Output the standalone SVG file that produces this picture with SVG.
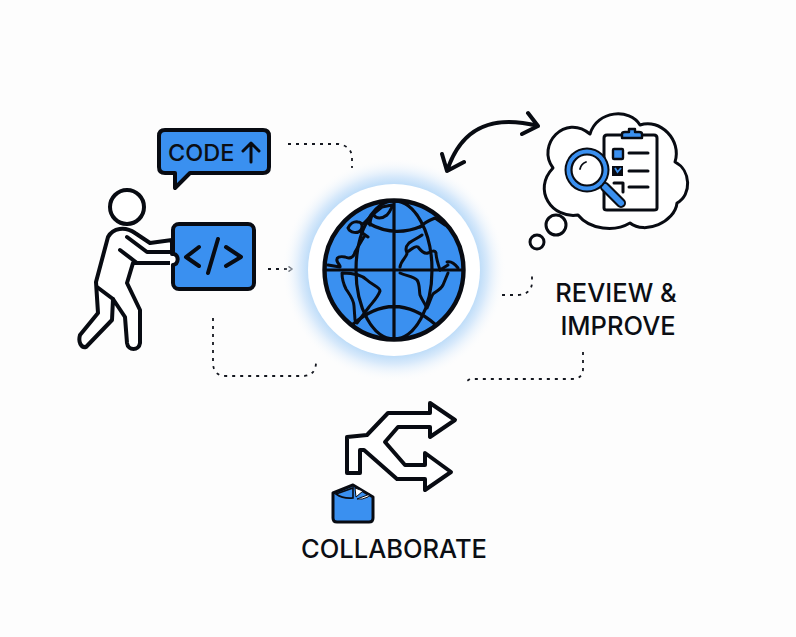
<svg xmlns="http://www.w3.org/2000/svg" width="796" height="637" viewBox="0 0 796 637">
  <defs>
    <radialGradient id="halo" gradientUnits="userSpaceOnUse" cx="394" cy="270" r="112">
      <stop offset="0.75" stop-color="#b9daf8"/>
      <stop offset="0.84" stop-color="#d9eafb"/>
      <stop offset="1" stop-color="#fdfdfd" stop-opacity="0"/>
    </radialGradient>
    <clipPath id="globeClip"><circle cx="394" cy="270" r="69"/></clipPath>
    <marker id="tip" markerWidth="6" markerHeight="6" refX="5" refY="3" orient="auto" markerUnits="userSpaceOnUse">
      <path d="M1.500 .5L5 3L1.500 5.500" fill="none" stroke="#10151f" stroke-width="1.400"/>
    </marker>
  </defs>
  <style>
    .ink { fill: none; stroke: #080b12; stroke-width: 4; stroke-linecap: round; stroke-linejoin: round; }
    .solid { fill: #fff; stroke: #080b12; stroke-width: 4; stroke-linecap: round; stroke-linejoin: round; }
    .blue { fill: #3a90f0; stroke: #080b12; stroke-width: 4; stroke-linecap: round; stroke-linejoin: round; }
    .thin { fill: none; stroke: #080b12; stroke-width: 3; stroke-linecap: round; stroke-linejoin: round; }
    .dot { fill: none; stroke: #14171f; stroke-width: 1.800; stroke-dasharray: 3 5; }
    .label { font-family: Inter, "Liberation Sans", sans-serif; font-weight: 500; fill: #0b0e14; }
  </style>
  <rect width="796" height="637" fill="#fdfdfd"/>

  <g id="connectors">
    <path class="dot" d="M288 144H338Q352 146 352 158V168"/>
    <path class="dot" d="M268 269H292" marker-end="url(#tip)"/>
    <path class="dot" d="M213 318V364Q214 376 226 376H304Q316 375 316 362"/>
    <path class="dot" d="M502 295H518Q532 294 532 282V272"/>
    <path class="dot" d="M583 352V370Q582 379 572 379H470L464 383"/>
    <path class="ink" d="M447 171C462 125 495 115 538 126M442 154L447 171L464 162M528 113L538 126L522 134"/>
  </g>

  <g id="developer">
    <circle class="solid" cx="127" cy="207" r="17"/>
    <path class="solid" d="M172 240L150 243L135 233C125 226 113 228 108 237L96 282L98 313L80 335C78 342 81 348 86 347L112 320L113 299L125 317L127 343C128 351 139 351 140 343V310L127 283L133 263H172Z"/>
    <path class="ink" d="M97 287L113 299M127 237L147 252H172M120 250L137 263H172"/>
  </g>

  <g id="code-card">
    <rect class="blue" x="173" y="224" width="81" height="65" rx="6"/>
    <path d="M170 254H174C179 255 179 264 174 265H170Z" fill="#fff"/>
    <path class="ink" d="M172 254H174C179 255 179 264 173 265"/>
    <path class="ink" d="M199 247L186 257L199 266M226 247L241 257L226 266M218 239L208 273"/>
  </g>

  <g id="code-bubble">
    <path class="blue" d="M165 130H263Q269 130 269 136V167Q269 173 263 173H190L175 188V173H165Q159 173 159 167V136Q159 130 165 130Z"/>
    <text class="label" x="168" y="161" font-size="23.500">CODE</text>
    <path class="ink" style="stroke-width:3" d="M251 162V144M243 151L251 143L259 151"/>
  </g>

  <g id="globe">
    <circle cx="394" cy="270" r="112" fill="url(#halo)"/>
    <circle cx="394" cy="270" r="86" fill="#fff"/>
    <circle cx="394" cy="270" r="69" fill="#3a90f0"/>
    <g clip-path="url(#globeClip)">
      <ellipse class="ink" style="stroke-width:3.200" cx="394" cy="270" rx="38" ry="69"/>
      <path class="ink" style="stroke-width:3.200" d="M394 200V340M325 270H463M352 325Q394 288 436 325M368 223Q394 238 422 226"/>
      <path class="thin" d="M348 228C350 224 354 221 358 222C362 222 363 226 361 230C358 234 350 233 348 228ZM362 225L372 215L382 207L392 205M370 225C370 219 372 214 374 215C376 219 382 219 387 215C390 212 391 209 392 207M361 232L368 237L365 235L355 252C354 258 349 259 345 257C340 256 336 257 337 261C338 264 341 266 340 267L328 265"/>
      <path class="thin" d="M342 273C342 279 344 285 346 289C350 295 354 300 354 306L355 320M343 273C352 273 362 275 367 280C372 285 380 287 380 291C378 297 373 302 369 307L363 315L357 323"/>
      <path class="thin" d="M400 267C401 260 407 257 407 253C405 249 406 246 409 243C413 240 418 238 422 235M407 252C411 250 415 245 418 247C421 251 425 254 428 253C431 251 435 250 436 253C436 258 438 264 440 270M420 227C424 223 430 220 435 218L445 225"/>
      <path class="thin" d="M400 273C406 276 413 276 417 280C420 284 419 290 420 295C422 300 425 304 427 308C430 302 431 297 433 294C437 291 441 289 443 285L448 273M447 262C451 261 455 264 458 268M448 265L440 270"/>
    </g>
    <circle class="ink" style="stroke-width:4.400" cx="394" cy="270" r="69.500"/>
  </g>

  <g id="review">
    <path class="solid" style="stroke-width:3" d="M590 134C597 110 630 108 640 125C660 118 682 140 675 162C691 170 692 195 677 203C675 222 645 235 630 223C615 232 590 230 578 215C552 219 532 190 553 168C536 145 565 113 590 134Z"/>
    <circle class="solid" style="stroke-width:3" cx="556" cy="225" r="10"/>
    <circle class="solid" style="stroke-width:3" cx="537" cy="242" r="7"/>
    <path class="thin" d="M622 135H607Q604 135 604 138V208Q604 210 607 210H654Q657 210 657 208V138Q657 135 654 135H642"/>
    <path class="blue" style="stroke-width:2.400" d="M622 138V134Q622 132 625 132H629V129H635V132H639Q642 132 642 134V138Z"/>
    <rect class="blue" style="stroke-width:2.400" x="613" y="149" width="10" height="10" rx="1"/>
    <rect x="612" y="166" width="11" height="10" fill="#080b12"/>
    <path d="M615 168L617.500 172L621 168" fill="none" stroke="#3a90f0" stroke-width="1.800"/>
    <path class="thin" d="M614 183H623V192M629 153H648M629 171H648M629 187H648"/>
    <path d="M605 187L621 203" stroke="#080b12" stroke-width="10" stroke-linecap="round"/>
    <path d="M605 187L621 203" stroke="#3a90f0" stroke-width="6" stroke-linecap="round"/>
    <circle cx="587" cy="170" r="22.500" fill="#080b12"/>
    <circle cx="587" cy="170" r="20.500" fill="#3a90f0"/>
    <circle cx="587" cy="170" r="15.500" fill="#fff" stroke="#080b12" stroke-width="2.200"/>
    <path class="thin" style="stroke-width:1.800" d="M580 169Q581 164 586 162"/>
    <text class="label" x="616" y="302" font-size="25.500" text-anchor="middle">REVIEW &amp;</text>
    <text class="label" x="618" y="335" font-size="25.500" text-anchor="middle">IMPROVE</text>
  </g>

  <g id="collaborate">
    <path class="solid" d="M347 473V437L367 435L388 413H430V403L455 420L430 437V427H398L385 442L405 465H425V453L451 472L425 490V479H397L364 450H360V473Z"/>
    <path class="blue" style="stroke-width:3" d="M333 493L353 485L373 497V518Q373 522 369 522H337Q333 522 333 518Z"/>
    <path d="M336 494L353 488V498Q343 499 336 494Z" fill="#3a90f0" stroke="#080b12" stroke-width="1.600"/>
    <path d="M355 488L363 491L356 497ZM357 499L370 494L368 497Q362 500 357 499Z" fill="#fff" stroke="#080b12" stroke-width="1"/>
    <text class="label" x="394" y="558" font-size="25.500" text-anchor="middle">COLLABORATE</text>
  </g>
</svg>
